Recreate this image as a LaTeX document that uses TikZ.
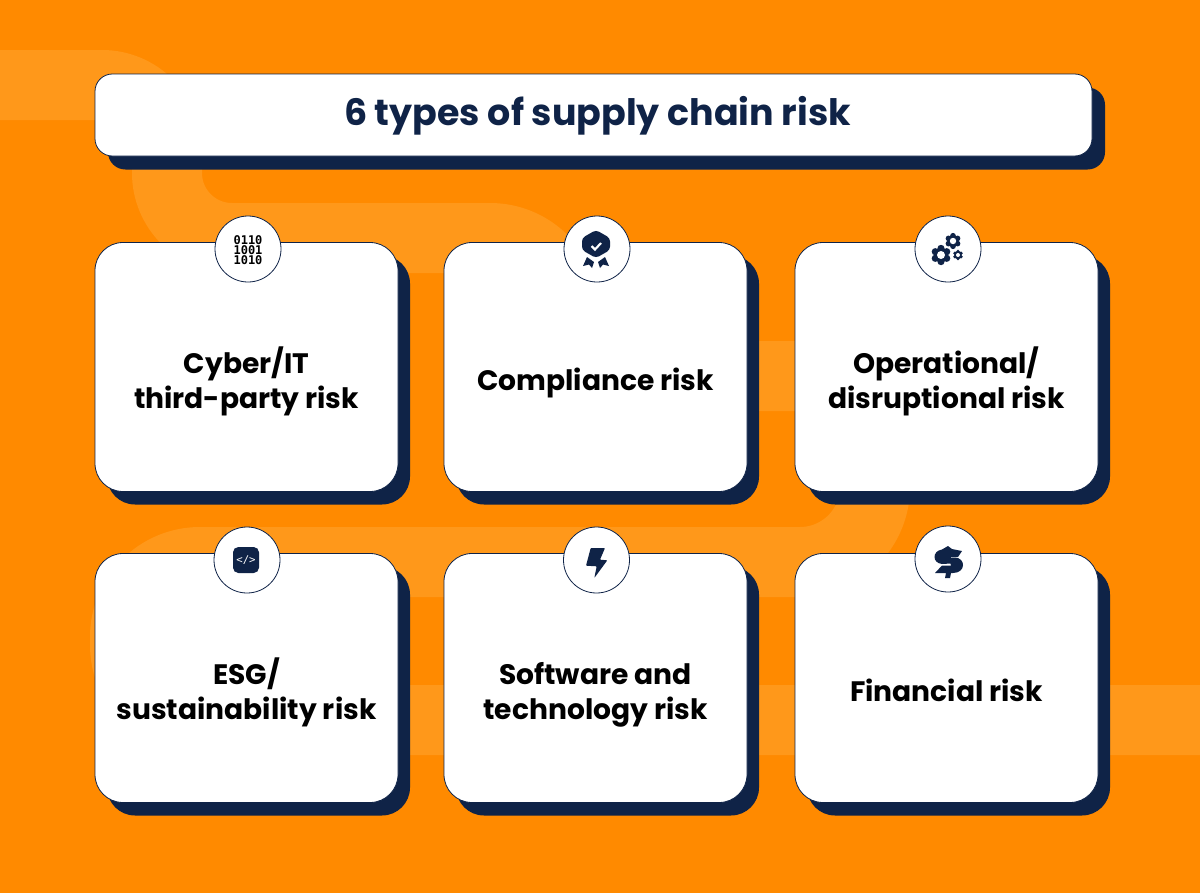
\documentclass[tikz,border=0pt]{standalone}
\usepackage{fontspec}
\setmainfont{Poppins}
\newfontfamily\binfont{DejaVu Sans Mono}
\usetikzlibrary{positioning,calc}

\definecolor{bgorange}{HTML}{FF8A00}
\definecolor{bandorange}{HTML}{FF981A}
\definecolor{riskblue}{HTML}{0F2347}

\tikzset{
    cardbox/.style={draw=riskblue, line width=0.6pt, fill=white, rounded corners=21pt,
        minimum width=227.25pt, minimum height=186.75pt, inner sep=0pt, align=center},
    cardshadow/.style={fill=riskblue, rounded corners=21pt,
        minimum width=227.25pt, minimum height=186.75pt, inner sep=0pt},
    titlebox/.style={draw=riskblue, line width=0.6pt, fill=white, rounded corners=13pt,
        minimum width=747.75pt, minimum height=61.5pt, inner sep=0pt},
    titleshadow/.style={fill=riskblue, rounded corners=13pt,
        minimum width=747.75pt, minimum height=61.5pt, inner sep=0pt},
    iconcircle/.style={circle, draw=riskblue, line width=0.6pt, fill=white,
        minimum size=49.5pt, inner sep=0pt},
    cardlabel/.style={font=\fontsize{21.1pt}{26.4pt}\selectfont\bfseries, text=black, align=center}
}

% one gear of the operations icon: x, y, radius, hole
\newcommand{\gearicon}[4]{
    \fill[riskblue] (#1,#2) circle ({#3*0.6});
    \foreach \a in {0,60,...,300}
        \fill[riskblue] ($(#1,#2)+(\a+30:{#3*0.55})$) circle ({#3*0.3});
    \fill[white] (#1,#2) circle (#4);
}

\begin{document}
\begin{tikzpicture}[x=0.75pt,y=-0.75pt]
    \useasboundingbox (0,0) rectangle (1200,893);
    \fill[bgorange] (0,0) rectangle (1200,893);

    % Background band
    \draw[bandorange, line width=52.5pt]
        (0,85) [rounded corners=48.75pt] -- (167,85) -- (167,238)
        [rounded corners=56.25pt] -- (565,238)
        [rounded corners=47pt] -- (565,376)
        [rounded corners=56.25pt] -- (875,376) -- (875,562) -- (125,562) -- (125,720) -- (1200,720);

    % Title
    \node[titleshadow] (titleback) at (606.5,128.5) {};
    \node[titlebox] (title) at (593.5,115) {};
    \node[text=riskblue, font=\fontsize{27.3pt}{32pt}\selectfont\bfseries] (titletext) at (597.5,116) {6 types of supply chain risk};

    % Cards
    \foreach \n/\x/\y/\ty/\txt in {
        cyber/246.5/367/381.5/{Cyber/IT\\third-party risk},
        compliance/595.5/367/382.5/{Compliance risk},
        operational/946.5/367/381.5/{Operational/\\disruptional risk},
        esg/246.5/678/692.5/{ESG/\\sustainability risk},
        software/595.5/678/694.5/{Software and\\technology risk},
        financial/946.5/678/690.5/{Financial risk}}
    {
        \node[cardshadow] (\n back) at (\x+12,\y+13) {};
        \node[cardbox] (\n) at (\x,\y) {};
        \node[cardlabel] (\n text) at (\x,\ty) {\txt};
    }

    % Icon circles
    \foreach \n/\x/\y in {cyber/248/249, compliance/597/249, operational/948/249,
        esg/247/560, software/596.5/560, financial/948/559}
        \node[iconcircle] (\n icon) at (\x,\y) {};

    % Binary icon
    \node[font=\binfont\bfseries\fontsize{9pt}{7.6pt}\selectfont, align=center, text=black, inner sep=0pt] (binary) at (248,250) {0110\\1001\\1010};

    % Shield icon
    \fill[riskblue, rounded corners=2.5pt] (596,230) -- (610,238) -- (610,250) -- (596,258) -- (582,250) -- (582,238) -- cycle;
    \draw[white, line width=1.6pt] (591.5,246) -- (595,249.5) -- (601,243);
    \fill[riskblue] (587,257) -- (594,262) -- (592,268) -- (589,264.5) -- (583,266) -- cycle;
    \fill[riskblue] (605,257) -- (598,262) -- (600,268) -- (603,264.5) -- (609,266) -- cycle;

    % Gears icon
    \gearicon{941}{255}{12}{4}
    \gearicon{953}{241}{9.5}{3.2}
    \gearicon{958}{255}{6.3}{2}

    % Code icon
    \node[fill=riskblue, rounded corners=4pt, minimum size=19.5pt, inner sep=0pt, text=white,
        font=\binfont\fontsize{8pt}{8pt}\selectfont] (code) at (246,560) {</>};

    % Bolt icon
    \fill[riskblue, rounded corners=0.6pt] (590.7,548) -- (605,548) -- (600,559.7) -- (607.3,560.3)
        -- (594.3,578) -- (596.7,566.3) -- (586,565.7) -- cycle;

    % Dollar icon
    \fill[riskblue] (948,546) -- (952,549) -- (962,551) -- (958,557) -- (951,557) -- (951,563.5) -- (942,564)
        .. controls (932,563) and (932,551) .. (942,549.5) -- cycle;
    \fill[riskblue] (949,558) -- (955,557.5) .. controls (966,558) and (966,573) .. (953,573) -- (951,573)
        -- (950,578) -- (945,578) -- (946,573) -- (935,573) -- (942,565.5) -- (951,565.5) -- cycle;
\end{tikzpicture}
\end{document}
